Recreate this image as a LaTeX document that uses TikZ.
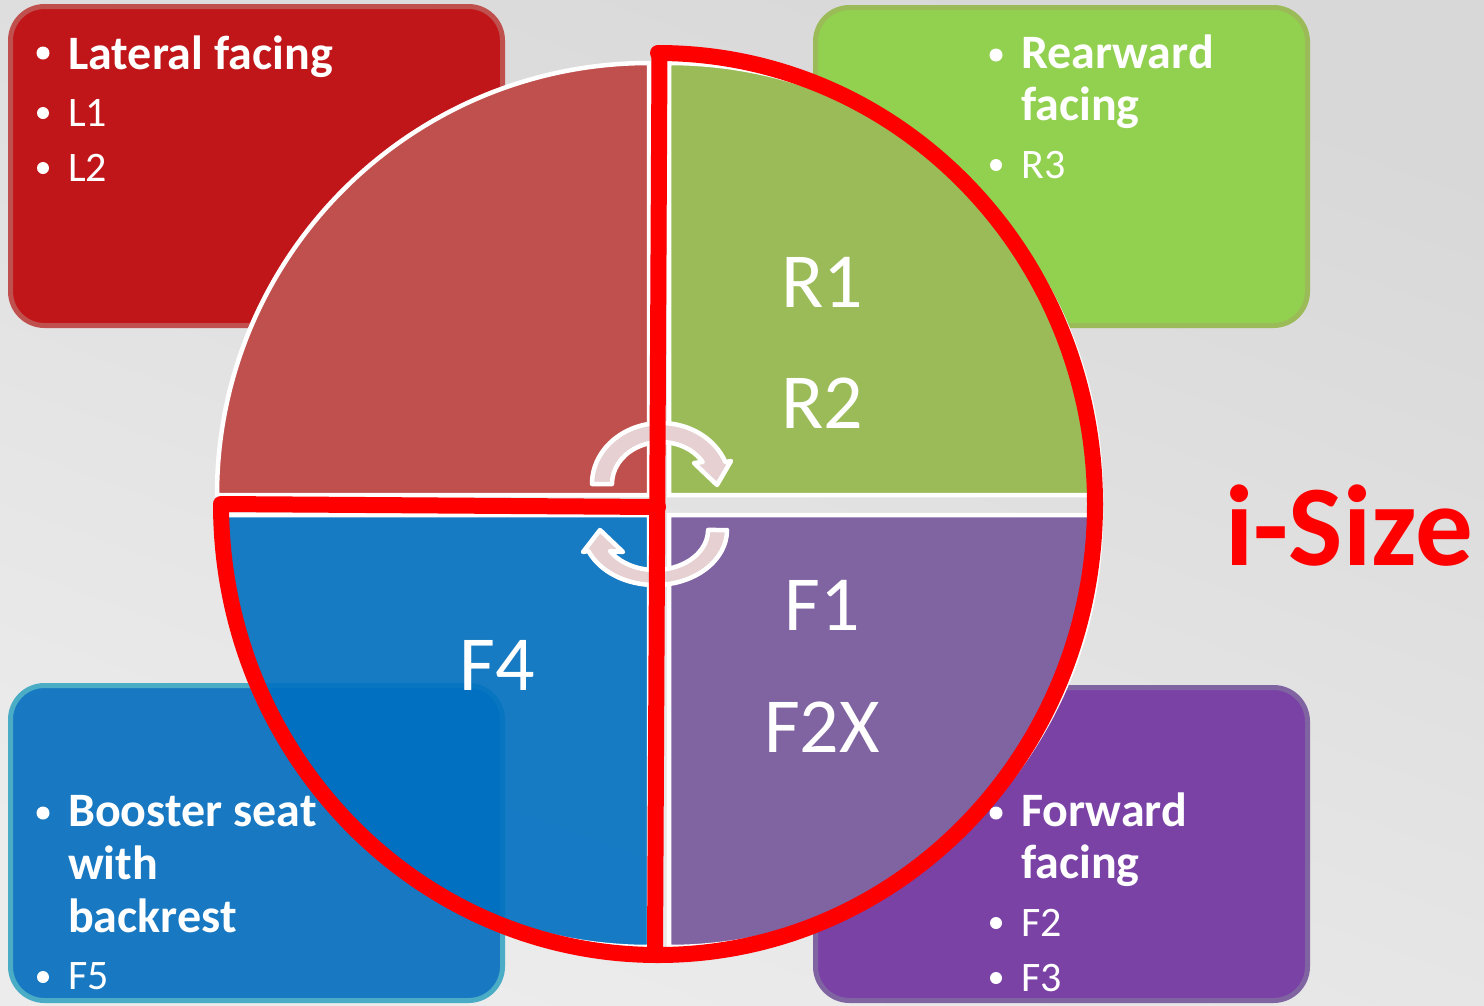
\documentclass[tikz,border=0pt]{standalone}
\usepackage{fontspec}
\setmainfont{Carlito}
\definecolor{bgA}{HTML}{D8D8D8}
\definecolor{bgB}{HTML}{ECECEC}
\definecolor{redbox}{HTML}{C0161A}
\definecolor{redboxb}{HTML}{C0504D}
\definecolor{greenbox}{HTML}{92D050}
\definecolor{greenboxb}{HTML}{9BBB59}
\definecolor{bluebox}{HTML}{1879C2}
\definecolor{blueboxb}{HTML}{4BACC6}
\definecolor{purplebox}{HTML}{7B42A6}
\definecolor{purpleboxb}{HTML}{8064A2}
\definecolor{qred}{HTML}{C0504D}
\definecolor{qgreen}{HTML}{9BBB59}
\definecolor{qblue}{HTML}{0070C0}
\definecolor{qpurple}{HTML}{8064A2}
\definecolor{arrowpink}{HTML}{E6D0D1}
\definecolor{isize}{HTML}{FF0000}
\begin{document}
\begin{tikzpicture}[x=1pt,y=1pt,
  cbox/.style={line width=5pt, rounded corners=34pt},
  quad/.style={draw=white, line width=4.5pt, line join=miter},
  carrow/.style={fill=arrowpink, draw=white, line width=4.5pt, line join=round},
  redline/.style={draw=isize, line width=16pt, line join=round, line cap=round},
  boldtxt/.style={text=white, inner sep=0pt, anchor=base west, font=\fontsize{48}{52}\selectfont\bfseries},
  regtxt/.style={text=white, inner sep=0pt, anchor=base west, font=\fontsize{42}{50}\selectfont},
  bigtxt/.style={text=white, inner sep=0pt, anchor=base, font=\fontsize{78}{90}\selectfont},
  bul/.style={circle, fill=white, inner sep=0pt, minimum size=13pt},
  sbul/.style={circle, fill=white, inner sep=0pt, minimum size=12pt}]
\useasboundingbox (0,0) rectangle (1484,-1005);
% background
\shade[top color=bgA, bottom color=bgB, shading angle=-20] (0,0) rectangle (1484,-1005);
% corner boxes
\draw[cbox, draw=redboxb, fill=redbox] (10.5,-6.5) rectangle (502.5,-325.5);
\draw[cbox, draw=greenboxb, fill=greenbox] (815.5,-7.5) rectangle (1307.5,-325.5);
\draw[cbox, draw=blueboxb, fill=bluebox] (10.5,-685.5) rectangle (502.5,-1000.5);
\draw[cbox, draw=purpleboxb, fill=purplebox] (815.5,-687.5) rectangle (1307.5,-1000.5);
% quadrants
\filldraw[quad, fill=qred] (649,-495) -- (217,-495) arc[start angle=180, end angle=90, radius=432] -- cycle;
\filldraw[quad, fill=qgreen] (669,-495) -- (669,-63) arc[start angle=90, end angle=0, radius=432] -- cycle;
\path[fill=qblue, fill opacity=0.9] (649,-515) -- (649,-947) arc[start angle=270, end angle=180, radius=432] -- cycle;
\draw[quad] (649,-515) -- (649,-947) arc[start angle=270, end angle=180, radius=432] -- cycle;
\filldraw[quad, fill=qpurple] (669,-515) -- (1101,-515) arc[start angle=0, end angle=-90, radius=432] -- cycle;
% circular arrows
\filldraw[carrow] (592,-484) arc[start angle=180, end angle=21, x radius=69, y radius=61]
  -- (731,-461) -- (717,-485) -- (694,-463) -- (702.7,-462)
  arc[start angle=31.6, end angle=180, x radius=49, y radius=42] -- cycle;
\filldraw[carrow] (727,-530) arc[start angle=0, end angle=-157.6, x radius=72, y radius=55]
  -- (583,-552) -- (600,-530) -- (623,-552) -- (610,-551)
  arc[start angle=-148.3, end angle=0, x radius=53, y radius=40] -- cycle;
% red outline
\draw[redline] (658,-53) arc[start angle=90, end angle=-180, x radius=437, y radius=451] -- (658,-507);
\draw[redline] (659.5,-53) -- (655,-955);
% quadrant labels
\node[bigtxt] (r1) at (822,-307) {R1};
\node[bigtxt] (r2) at (822,-428) {R2};
\node[bigtxt] (f1) at (822,-630) {F1};
\node[bigtxt] (f2x) at (822,-752) {F2X};
\node[bigtxt] (f4) at (497,-690) {F4};
% red box text
\node[bul] (bl0) at (43,-53) {};
\node[boldtxt] (lat) at (68,-69) {Lateral facing};
\node[sbul] (bl1) at (43,-113) {};
\node[regtxt] (l1) at (68,-126) {L1};
\node[sbul] (bl2) at (43,-168) {};
\node[regtxt] (l2) at (68,-181) {L2};
% green box text
\node[bul] (bg0) at (996,-55) {};
\node[boldtxt] (rear) at (1021,-68) {Rearward};
\node[boldtxt] (rearf) at (1021,-120) {facing};
\node[sbul] (bg1) at (996,-165) {};
\node[regtxt] (r3) at (1021,-178) {R3};
% blue box text
\node[bul] (bb0) at (43,-813) {};
\node[boldtxt] (boo) at (68,-826) {Booster seat};
\node[boldtxt] (wit) at (68,-879) {with};
\node[boldtxt] (bac) at (68,-932) {backrest};
\node[sbul] (bb1) at (43,-977) {};
\node[regtxt] (f5) at (68,-989) {F5};
% purple box text
\node[bul] (bp0) at (996,-813) {};
\node[boldtxt] (fwd) at (1021,-826) {Forward};
\node[boldtxt] (fwdf) at (1021,-878) {facing};
\node[sbul] (bp1) at (996,-923) {};
\node[regtxt] (f2) at (1021,-936) {F2};
\node[sbul] (bp2) at (996,-978) {};
\node[regtxt] (f3) at (1021,-991) {F3};
% i-Size
\node[text=isize, inner sep=0pt, anchor=base, font=\fontsize{115}{120}\selectfont\bfseries] (isz) at (1349,-565) {i-Size};
\end{tikzpicture}
\end{document}
